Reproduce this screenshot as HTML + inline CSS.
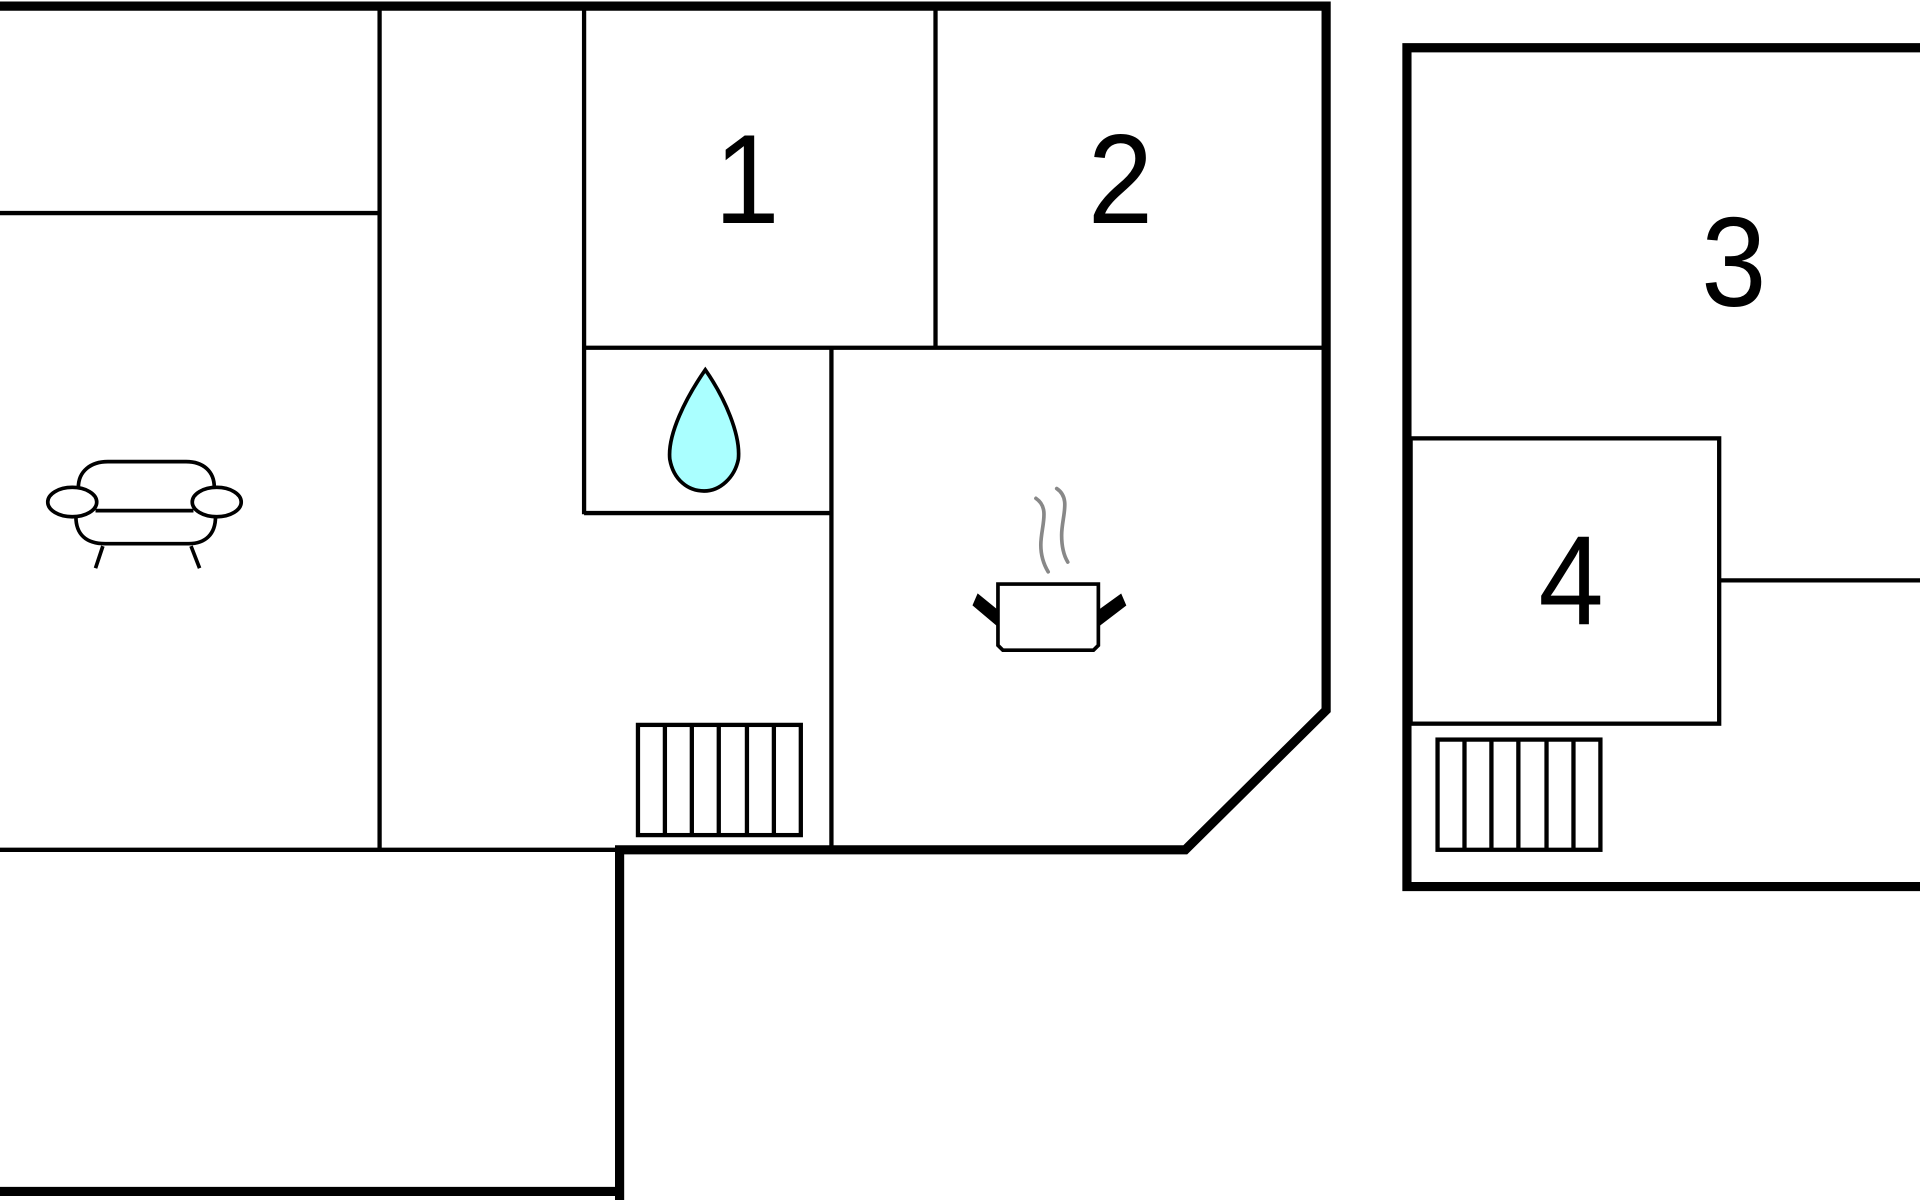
<!DOCTYPE html>
<html><head><style>html,body{margin:0;padding:0;background:#fff;overflow:hidden}svg{display:block}</style></head>
<body>
<svg width="1920" height="1200" viewBox="0 0 1568 980" xmlns="http://www.w3.org/2000/svg">
<rect width="1568" height="980" fill="#fff"/>
<g stroke="#000" fill="none" stroke-width="3.5">
<line x1="310" y1="5" x2="310" y2="694"/>
<line x1="0" y1="174" x2="310" y2="174"/>
<line x1="0" y1="694" x2="506" y2="694"/>
<line x1="477" y1="5" x2="477" y2="420"/>
<line x1="477" y1="284" x2="1080" y2="284"/>
<line x1="764" y1="5" x2="764" y2="284"/>
<line x1="679" y1="284" x2="679" y2="694"/>
<line x1="477" y1="419" x2="679" y2="419"/>
<rect x="1152" y="358" width="252" height="233"/>
<line x1="1404" y1="474" x2="1568" y2="474"/>
<rect x="521" y="592" width="133" height="90"/>
<line x1="543" y1="592" x2="543" y2="682"/><line x1="565" y1="592" x2="565" y2="682"/><line x1="587" y1="592" x2="587" y2="682"/><line x1="610" y1="592" x2="610" y2="682"/><line x1="632" y1="592" x2="632" y2="682"/>
<rect x="1174" y="604" width="133" height="90"/>
<line x1="1196" y1="604" x2="1196" y2="694"/><line x1="1218" y1="604" x2="1218" y2="694"/><line x1="1240" y1="604" x2="1240" y2="694"/><line x1="1263" y1="604" x2="1263" y2="694"/><line x1="1285" y1="604" x2="1285" y2="694"/>
</g>
<g stroke="#000" fill="none" stroke-width="7.5">
<polyline points="0,5 1083,5 1083,580 968,694 506,694 506,980"/>
<line x1="0" y1="973" x2="506" y2="973"/>
<polyline points="1568,39 1149,39 1149,724 1568,724"/>
</g>
<path d="M576,302 C560,325 545,355 547,375 C550,392 562,401 575,401 C588,401 600,390 603,375 C605,355 592,325 576,302 Z" fill="#aaffff" stroke="#000" stroke-width="3"/>
<g stroke="#000" fill="none" stroke-width="3">
<path d="M64,398 C64,385 74,377 88,377 L152,377 C166,377 175,385 175,398"/>
<path d="M62,422 C62,436 70,444 86,444 L154,444 C168,444 176,436 176,422"/>
<line x1="78" y1="417" x2="158" y2="417"/>
<ellipse cx="59" cy="410" rx="20" ry="12"/>
<ellipse cx="177" cy="410" rx="20" ry="12"/>
<line x1="84" y1="446" x2="78" y2="464"/><line x1="156" y1="446" x2="163" y2="464"/>
<path d="M815,477 L897,477 L897,527 L893,531 L819,531 L815,527 Z"/>
<path d="M815,510 L796,494 L799,487 L815,500" fill="#000"/>
<path d="M897,510 L918,494 L915,487 L897,500" fill="#000"/>
</g>
<g stroke="#888" fill="none" stroke-width="3" stroke-linecap="round">
<path d="M846,407 C858,415 850,430 850,445 C850,455 853,462 856,467"/>
<path d="M863,399 C875,407 867,422 867,437 C867,447 869,454 872,459"/>
</g>
<g font-family="Liberation Sans, sans-serif" font-size="104" fill="#000" text-anchor="middle">
<text transform="translate(610,182) scale(0.92,1)">1</text>
<text transform="translate(915,182) scale(0.92,1)">2</text>
<text transform="translate(1416,250) scale(0.92,1)">3</text>
<text transform="translate(1283,510) scale(0.92,1)">4</text>
</g>
</svg>
</body></html>
